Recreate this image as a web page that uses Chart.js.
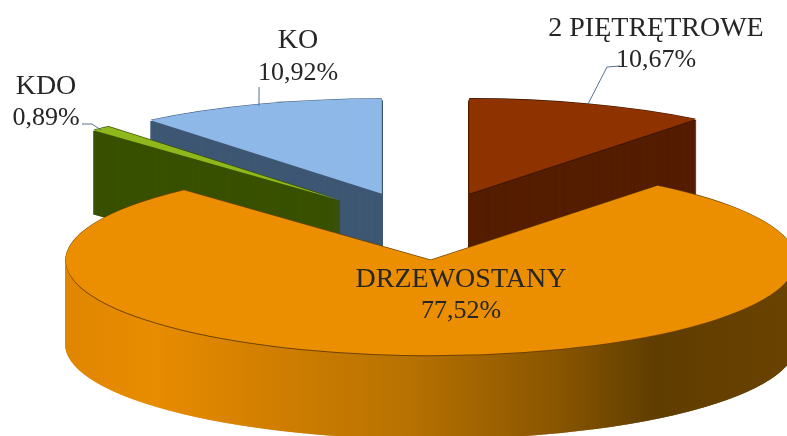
<!DOCTYPE html>
<html>
<head>
<meta charset="utf-8">
<title>Drzewostany</title>
<script src="https://cdn.jsdelivr.net/npm/chart.js@4/dist/chart.umd.min.js"></script>
<style>
  html, body { margin: 0; padding: 0; background: #fff; overflow: hidden; }
  canvas { display: block; }
</style>
</head>
<body>
<canvas id="chart" width="787" height="436"></canvas>
<script>
'use strict'

const categories = ['2 PIĘTRĘTROWE', 'DRZEWOSTANY', 'KDO', 'KO']
const shares = [10.67, 77.52, 0.89, 10.92]

const topColors = ['#8e3300', '#eb8e00', '#8fb81c', '#8db8e8']
const wallColors = ['#561f00', null, '#3a5200', '#3f5874'] // orange wall gets a gradient
const edgeColors = ['#3a1500', '#6e4300', '#3a5200', '#3f5874']

// where the text goes: centre x, baseline of name, baseline of value
const labelSpots = [
  [656, 36, 67],
  [461, 287, 318],
  [46, 94, 125],
  [298, 48, 80]
]
// leader lines, index matches categories, DRZEWOSTANY has none
const leaders = [
  [[620, 66], [607, 67], [588, 104]],
  [],
  [[82, 124], [92, 124], [101, 130]],
  [[259, 87], [259, 106]]
]

// the flattened pie on the page
const pieX = 426
const pieY = 226
const pieRx = 365
const pieRy = 95
const pieDepth = 84
const explode = 0.36 // share of the radius each slice is pulled out

const drawOrder = [3, 2, 0, 1] // back to front

const fakeOptions = (color, border) => ({
  offset: 0,
  spacing: 0,
  circular: true,
  borderWidth: border,
  borderAlign: 'center',
  borderRadius: 0,
  borderColor: color,
  backgroundColor: color
})

const paintArc = (ctx, arc, color, border = 0) => {
  const real = arc.options
  arc.options = fakeOptions(color, border)
  arc.draw(ctx)
  arc.options = real
}

const pie3d = {
  id: 'pie3d',
  beforeDatasetDraw (chart, args) {
    const ctx = chart.ctx
    const arcs = chart.getDatasetMeta(args.index).data
    const radius = arcs[0].outerRadius
    const sx = pieRx / radius
    const sy = pieRy / radius

    // gradient is made in the pie's own flattened coordinates
    const toLocal = x => (x - pieX) / sx + arcs[0].x
    const orangeWall = ctx.createLinearGradient(toLocal(65), 0, toLocal(787), 0)
    const stop = (x, c) => orangeWall.addColorStop((x - 65) / 722, c)
    stop(65, '#e08600')
    stop(150, '#e88c00')
    stop(250, '#d48000')
    stop(400, '#b87200')
    stop(550, '#8a5600')
    stop(650, '#5f3d00')
    stop(787, '#6a4200')

    const place = (arc, dy) => {
      const mid = (arc.startAngle + arc.endAngle) / 2
      ctx.setTransform(sx, 0, 0, sy, pieX - arc.x * sx, pieY + dy - arc.y * sy)
      ctx.translate(Math.cos(mid) * explode * radius, Math.sin(mid) * explode * radius)
    }

    ctx.save()
    drawOrder.forEach(i => {
      const arc = arcs[i]
      const wall = wallColors[i] || orangeWall
      // thin border on the wall copies, stops stripes and gaps at the thin KDO wedge
      for (let dy = pieDepth; dy >= 1; dy -= 0.5) {
        place(arc, dy)
        paintArc(ctx, arc, wall, 0.8)
      }
      place(arc, 1)
      paintArc(ctx, arc, edgeColors[i])
      place(arc, -0.6)
      paintArc(ctx, arc, edgeColors[i])
      place(arc, 0)
      paintArc(ctx, arc, topColors[i])
    })
    ctx.restore()
    return false
  },
  afterDraw (chart) {
    const ctx = chart.ctx
    ctx.save()
    ctx.setTransform(1, 0, 0, 1, 0, 0)
    ctx.strokeStyle = '#56718c'
    ctx.lineWidth = 1
    leaders.forEach(pts => {
      if (!pts.length) return
      ctx.beginPath()
      pts.forEach((p, k) => (k ? ctx.lineTo(p[0], p[1]) : ctx.moveTo(p[0], p[1])))
      ctx.stroke()
    })
    ctx.fillStyle = '#262626'
    ctx.textAlign = 'center'
    ctx.textBaseline = 'alphabetic'
    categories.forEach((name, i) => {
      const spot = labelSpots[i]
      ctx.font = '28px "Liberation Serif"'
      ctx.fillText(name, spot[0], spot[1])
      ctx.font = '26px "Liberation Serif"'
      ctx.fillText(shares[i].toFixed(2).replace('.', ',') + '%', spot[0], spot[2])
    })
    ctx.restore()
  }
}

const pieChart = new Chart(document.getElementById('chart'), {
  type: 'pie',
  data: {
    labels: categories,
    datasets: [{
      data: shares,
      backgroundColor: topColors,
      borderWidth: 0
    }]
  },
  options: {
    responsive: false,
    animation: false,
    layout: { padding: 0 },
    plugins: {
      legend: { display: false },
      title: { display: false },
      tooltip: { enabled: false }
    }
  },
  plugins: [pie3d]
})
</script>
</body>
</html>
